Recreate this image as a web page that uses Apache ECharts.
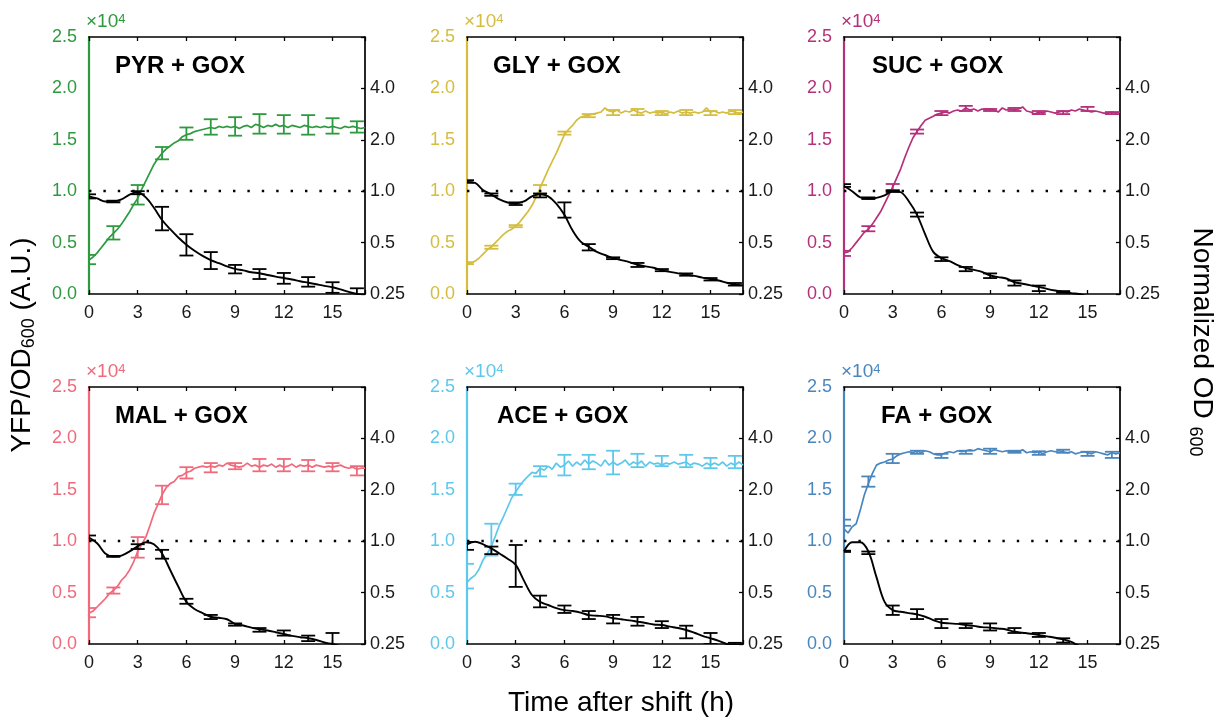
<!DOCTYPE html>
<html><head><meta charset="utf-8">
<script src="https://cdn.jsdelivr.net/npm/echarts@6/dist/echarts.min.js"></script>
<style>html,body{margin:0;padding:0;background:#fff}#c{width:1225px;height:721px}</style>
</head><body><div id="c"></div>
<script>
// ---------- data ----------
const HOURS_YFP = [0,0.25,0.5,0.75,1,1.25,1.5,1.75,2,2.25,2.5,2.75,3,3.25,3.5,3.75,4,4.25,4.5,4.75,5,5.25,5.5,5.75,6,6.25,6.5,6.75,7,7.25,7.5,7.75,8,8.25,8.5,8.75,9,9.25,9.5,9.75,10,10.25,10.5,10.75,11,11.25,11.5,11.75,12,12.25,12.5,12.75,13,13.25,13.5,13.75,14,14.25,14.5,14.75,15,15.25,15.5,15.75,16,16.25,16.5,16.75,17];
const HOURS_OD = [0,0.5,1,1.5,2,2.5,3,3.5,4,4.5,5,5.5,6,6.5,7,7.5,8,8.5,9,9.5,10,10.5,11,11.5,12,12.5,13,13.5,14,14.5,15,15.5,16,16.5,17];
const HOURS_BAR = [0,1.5,3,4.5,6,7.5,9,10.5,12,13.5,15,16.5];
const X_TICKS = [0,3,6,9,12,15];
const OD_TICK_LABELS = ['0.25','0.5','1.0','2.0','4.0'];

const NAMES = ['PYR + GOX','GLY + GOX','SUC + GOX','MAL + GOX','ACE + GOX','FA + GOX'];
const COLORS = ['#2e9a3f','#d4bd3f','#b5307a','#f06a7c','#5ec8ec','#4a86be'];

// YFP/OD600 (x10^4)
const yfp_PYR = [0.33,0.36,0.40,0.45,0.50,0.55,0.59,0.63,0.68,0.74,0.80,0.87,0.93,1.02,1.10,1.18,1.26,1.32,1.37,1.41,1.44,1.47,1.49,1.53,1.55,1.56,1.58,1.59,1.60,1.61,1.62,1.61,1.63,1.62,1.63,1.62,1.63,1.61,1.63,1.64,1.62,1.65,1.64,1.62,1.64,1.63,1.65,1.63,1.64,1.62,1.64,1.63,1.62,1.64,1.63,1.62,1.63,1.62,1.63,1.62,1.63,1.62,1.61,1.63,1.62,1.63,1.62,1.61,1.62];
const yfp_GLY = [0.30,0.30,0.32,0.35,0.39,0.43,0.46,0.50,0.54,0.58,0.61,0.63,0.66,0.70,0.75,0.80,0.86,0.94,1.03,1.12,1.21,1.29,1.37,1.46,1.55,1.60,1.64,1.69,1.72,1.73,1.74,1.75,1.76,1.77,1.81,1.78,1.77,1.79,1.76,1.78,1.77,1.79,1.77,1.76,1.78,1.76,1.77,1.76,1.77,1.75,1.77,1.76,1.78,1.76,1.77,1.76,1.77,1.76,1.77,1.81,1.77,1.78,1.76,1.77,1.76,1.78,1.77,1.76,1.77];
const yfp_SUC = [0.40,0.41,0.45,0.50,0.55,0.60,0.63,0.68,0.74,0.80,0.88,0.96,1.04,1.13,1.22,1.33,1.43,1.52,1.58,1.64,1.69,1.71,1.73,1.75,1.76,1.77,1.76,1.78,1.79,1.78,1.81,1.79,1.80,1.78,1.80,1.79,1.80,1.79,1.77,1.81,1.79,1.80,1.79,1.80,1.82,1.78,1.77,1.75,1.77,1.76,1.78,1.77,1.76,1.77,1.78,1.77,1.79,1.78,1.80,1.79,1.78,1.77,1.78,1.77,1.76,1.76,1.77,1.76,1.77];
const yfp_MAL = [0.30,0.32,0.36,0.40,0.44,0.49,0.52,0.56,0.62,0.66,0.72,0.80,0.90,0.97,1.04,1.15,1.27,1.36,1.45,1.52,1.56,1.58,1.63,1.64,1.67,1.68,1.71,1.72,1.73,1.72,1.73,1.72,1.74,1.73,1.76,1.74,1.73,1.72,1.73,1.76,1.73,1.74,1.72,1.74,1.73,1.75,1.72,1.74,1.72,1.73,1.75,1.72,1.74,1.73,1.74,1.72,1.74,1.73,1.72,1.73,1.72,1.73,1.74,1.72,1.71,1.72,1.70,1.71,1.71];
const yfp_ACE = [0.60,0.64,0.67,0.73,0.82,0.88,0.95,1.05,1.16,1.24,1.33,1.42,1.48,1.54,1.59,1.63,1.67,1.66,1.71,1.69,1.73,1.70,1.76,1.72,1.74,1.78,1.73,1.77,1.74,1.79,1.75,1.78,1.76,1.73,1.79,1.74,1.77,1.74,1.76,1.79,1.74,1.77,1.75,1.78,1.73,1.77,1.75,1.76,1.74,1.76,1.75,1.77,1.75,1.76,1.77,1.74,1.76,1.75,1.73,1.76,1.74,1.76,1.74,1.77,1.73,1.76,1.74,1.77,1.74];
const yfp_FA  = [1.12,1.08,1.14,1.17,1.30,1.45,1.56,1.66,1.74,1.76,1.77,1.79,1.80,1.83,1.85,1.86,1.87,1.86,1.88,1.86,1.88,1.87,1.85,1.84,1.84,1.86,1.87,1.86,1.88,1.87,1.88,1.89,1.88,1.90,1.89,1.88,1.87,1.89,1.88,1.87,1.88,1.87,1.88,1.87,1.89,1.86,1.87,1.86,1.87,1.85,1.87,1.88,1.87,1.88,1.87,1.86,1.87,1.85,1.86,1.87,1.86,1.85,1.87,1.86,1.85,1.84,1.86,1.85,1.86];

// Normalized OD600
const od_PYR = [0.933,0.907,0.871,0.871,0.895,0.955,0.986,0.92,0.80,0.678,0.599,0.536,0.486,0.448,0.418,0.395,0.379,0.363,0.351,0.344,0.335,0.331,0.323,0.316,0.310,0.304,0.297,0.291,0.285,0.279,0.274,0.266,0.257,0.250,0.247];
const od_GLY = [1.133,1.117,1.014,0.959,0.895,0.859,0.847,0.871,0.933,0.959,0.933,0.847,0.727,0.590,0.507,0.473,0.441,0.423,0.406,0.395,0.384,0.371,0.363,0.356,0.344,0.337,0.330,0.325,0.319,0.312,0.306,0.300,0.291,0.283,0.281];
const od_SUC = [1.072,1.0,0.920,0.907,0.914,0.946,1.0,0.986,0.871,0.727,0.559,0.441,0.406,0.390,0.369,0.354,0.346,0.337,0.321,0.314,0.308,0.293,0.287,0.281,0.275,0.268,0.262,0.257,0.253,0.250,0.243,0.240,0.237,0.233,0.230];
const od_MAL = [1.051,0.973,0.847,0.812,0.824,0.871,0.933,0.986,0.959,0.847,0.678,0.543,0.441,0.401,0.379,0.361,0.356,0.349,0.328,0.321,0.312,0.305,0.300,0.293,0.286,0.279,0.274,0.270,0.264,0.255,0.250,0.243,0.238,0.234,0.230];
const od_ACE = [0.959,0.992,0.959,0.907,0.847,0.790,0.727,0.590,0.484,0.441,0.423,0.406,0.395,0.390,0.382,0.369,0.366,0.363,0.354,0.349,0.344,0.338,0.332,0.325,0.323,0.316,0.310,0.302,0.291,0.279,0.270,0.261,0.250,0.247,0.247];
const od_FA  = [0.871,0.986,0.986,0.871,0.616,0.441,0.395,0.386,0.379,0.373,0.361,0.345,0.333,0.330,0.328,0.323,0.319,0.314,0.312,0.308,0.304,0.295,0.291,0.287,0.282,0.277,0.272,0.266,0.257,0.243,0.237,0.232,0.228,0.224,0.220];

// error bars (low / high) at HOURS_BAR
const yfpLo_PYR = [0.29,0.53,0.87,1.31,1.50,1.55,1.54,1.56,1.56,1.55,1.56,1.57];
const yfpHi_PYR = [0.38,0.66,1.06,1.43,1.62,1.70,1.72,1.75,1.74,1.74,1.71,1.68];
const odLo_PYR  = [0.907,0.86,0.96,0.59,0.42,0.35,0.33,0.306,0.287,0.276,0.254,0.243];
const odHi_PYR  = [0.959,0.88,1.0,0.81,0.56,0.44,0.37,0.35,0.332,0.314,0.293,0.27];

const yfpLo_GLY = [0.29,0.44,0.65,0.97,1.55,1.72,1.74,1.74,1.74,1.74,1.74,1.75];
const yfpHi_GLY = [0.31,0.47,0.67,1.06,1.58,1.75,1.79,1.80,1.78,1.79,1.78,1.79];
const odLo_GLY  = [1.12,0.94,0.83,0.92,0.70,0.45,0.40,0.36,0.34,0.32,0.30,0.28];
const odHi_GLY  = [1.16,0.97,0.86,0.97,0.86,0.49,0.41,0.38,0.35,0.33,0.31,0.29];

const yfpLo_SUC = [0.37,0.61,1.01,1.56,1.74,1.78,1.78,1.78,1.75,1.75,1.78,1.75];
const yfpHi_SUC = [0.42,0.66,1.07,1.60,1.78,1.83,1.80,1.81,1.78,1.78,1.82,1.77];
const odLo_SUC  = [1.06,0.90,0.99,0.71,0.39,0.34,0.31,0.28,0.26,0.254,0.238,0.228];
const odHi_SUC  = [1.10,0.92,1.01,0.75,0.41,0.36,0.33,0.30,0.28,0.26,0.245,0.235];

const yfpLo_MAL = [0.26,0.49,0.84,1.36,1.61,1.67,1.70,1.68,1.68,1.68,1.68,1.64];
const yfpHi_MAL = [0.35,0.55,1.04,1.54,1.72,1.76,1.76,1.80,1.80,1.79,1.76,1.73];
const odLo_MAL  = [1.01,0.81,0.90,0.79,0.43,0.35,0.32,0.295,0.28,0.26,0.243,0.228];
const odHi_MAL  = [1.08,0.82,0.96,0.89,0.46,0.37,0.33,0.31,0.30,0.28,0.29,0.235];

const yfpLo_ACE = [0.54,0.86,1.45,1.63,1.64,1.70,1.65,1.72,1.73,1.72,1.71,1.71];
const yfpHi_ACE = [0.78,1.17,1.56,1.73,1.84,1.84,1.88,1.85,1.83,1.84,1.81,1.83];
const odLo_ACE  = [0.89,0.84,0.54,0.41,0.38,0.35,0.33,0.32,0.31,0.27,0.25,0.246];
const odHi_ACE  = [0.99,0.93,0.95,0.48,0.42,0.39,0.37,0.36,0.34,0.32,0.29,0.254];

const yfpLo_FA  = [1.15,1.53,1.76,1.85,1.81,1.85,1.85,1.86,1.84,1.86,1.83,1.81];
const yfpHi_FA  = [1.21,1.63,1.85,1.88,1.85,1.88,1.90,1.88,1.875,1.89,1.87,1.87];
const odLo_FA   = [0.865,0.84,0.37,0.35,0.31,0.31,0.30,0.29,0.275,0.255,0.23,0.22];
const odHi_FA   = [0.88,0.87,0.42,0.40,0.35,0.33,0.33,0.31,0.29,0.27,0.24,0.23];

// ---------- layout (kept separate from data) ----------
const FONT = '"Liberation Sans", Arial, Helvetica, sans-serif';
const POS = [[89,37],[467,37],[844,37],[89,387],[467,387],[844,387]];
const GW = 276, GH = 257;
const TITLE_DX = [26,26,28,26,30,37];

const YFP = [yfp_PYR,yfp_GLY,yfp_SUC,yfp_MAL,yfp_ACE,yfp_FA];
const OD = [od_PYR,od_GLY,od_SUC,od_MAL,od_ACE,od_FA];
const YLO = [yfpLo_PYR,yfpLo_GLY,yfpLo_SUC,yfpLo_MAL,yfpLo_ACE,yfpLo_FA];
const YHI = [yfpHi_PYR,yfpHi_GLY,yfpHi_SUC,yfpHi_MAL,yfpHi_ACE,yfpHi_FA];
const OLO = [odLo_PYR,odLo_GLY,odLo_SUC,odLo_MAL,odLo_ACE,odLo_FA];
const OHI = [odHi_PYR,odHi_GLY,odHi_SUC,odHi_MAL,odHi_ACE,odHi_FA];

function errBar(color){
  return function(params, api){
    const x = api.value(0), lo = api.value(1), hi = api.value(2);
    const a = api.coord([x, lo]), b = api.coord([x, hi]);
    const w = 7;
    const st = {stroke: color, lineWidth: 1.8, fill: null};
    return {type:'group', children:[
      {type:'line', shape:{x1:a[0], y1:a[1], x2:b[0], y2:b[1]}, style: st},
      {type:'line', shape:{x1:a[0]-w, y1:a[1], x2:a[0]+w, y2:a[1]}, style: st},
      {type:'line', shape:{x1:b[0]-w, y1:b[1], x2:b[0]+w, y2:b[1]}, style: st}
    ]};
  };
}

const grid = [], xAxis = [], yAxis = [], series = [], graphic = [];
NAMES.forEach((name, i) => {
  const [L, T] = POS[i];
  const col = COLORS[i];
  grid.push({left: L, top: T, width: GW, height: GH, containLabel: false, outerBoundsMode: 'none'});
  const xBase = {
    type: 'value', gridIndex: i, min: 0, max: 17, interval: 3,
    splitLine: {show: false},
    axisLine: {show: true, onZero: false, lineStyle: {color: '#000', width: 1.7}},
    axisTick: {show: true, inside: true, length: 4, lineStyle: {color: '#000', width: 1.3}}
  };
  xAxis.push(Object.assign({}, xBase, {
    position: 'bottom',
    axisLabel: {show: true, color: '#1a1a1a', fontSize: 18, fontFamily: FONT, margin: 10,
      formatter: v => X_TICKS.indexOf(v) >= 0 ? String(v) : ''}
  }));
  xAxis.push(Object.assign({}, xBase, {position: 'top', axisLabel: {show: false}}));
  yAxis.push({
    type: 'value', gridIndex: i, min: 0, max: 2.5, interval: 0.5, position: 'left',
    splitLine: {show: false},
    axisLine: {show: true, onZero: false, lineStyle: {color: col, width: 2.2}},
    axisTick: {show: false},
    axisLabel: {color: col, fontSize: 18, fontFamily: FONT, margin: 12, formatter: v => v.toFixed(1)}
  });
  yAxis.push({
    type: 'log', logBase: 2, gridIndex: i, min: 0.25, max: 8, position: 'right',
    splitLine: {show: false},
    axisLine: {show: true, onZero: false, lineStyle: {color: '#000', width: 1.7}},
    axisTick: {show: true, inside: true, length: 4, lineStyle: {color: '#000', width: 1.3}},
    axisLabel: {color: '#1a1a1a', fontSize: 18, fontFamily: FONT, margin: 5,
      formatter: v => {
        const k = Math.round(Math.log2(v)) + 2;
        return (k >= 0 && k < OD_TICK_LABELS.length) ? OD_TICK_LABELS[k] : '';
      }}
  });
  const xi = 2 * i, yl = 2 * i, yr = 2 * i + 1;
  series.push({
    type: 'line', xAxisIndex: xi, yAxisIndex: yl, symbol: 'none', showSymbol: false, clip: true,
    lineStyle: {color: col, width: 1.7}, itemStyle: {color: col}, z: 3,
    data: HOURS_YFP.map((t, k) => [t, YFP[i][k]])
  });
  series.push({
    type: 'custom', xAxisIndex: xi, yAxisIndex: yl, clip: true, z: 3,
    renderItem: errBar(col), itemStyle: {color: col},
    data: HOURS_BAR.map((t, k) => [t, YLO[i][k], YHI[i][k]])
  });
  series.push({
    type: 'line', xAxisIndex: xi, yAxisIndex: yr, symbol: 'none', showSymbol: false, clip: true,
    smooth: 0.35, lineStyle: {color: '#000', width: 1.9}, itemStyle: {color: '#000'}, z: 4,
    data: HOURS_OD.map((t, k) => [t, OD[i][k]]),
    markLine: {
      silent: true, symbol: 'none', label: {show: false}, animation: false,
      lineStyle: {color: '#000', width: 2.4, type: [2.4, 12]},
      data: [{yAxis: 1}]
    }
  });
  series.push({
    type: 'custom', xAxisIndex: xi, yAxisIndex: yr, clip: true, z: 5,
    renderItem: errBar('#000'), itemStyle: {color: '#000'},
    data: HOURS_BAR.map((t, k) => [t, OLO[i][k], OHI[i][k]])
  });
  graphic.push({
    type: 'text', x: L - 3, y: T - 15, silent: true,
    style: {text: '×10{s|4}', font: '19px ' + FONT, fill: col, align: 'left', verticalAlign: 'middle',
      rich: {s: {fontSize: 13, fontFamily: FONT, fill: col, verticalAlign: 'top', lineHeight: 12}}}
  });
  graphic.push({
    type: 'text', x: L + TITLE_DX[i], y: T + 29, silent: true,
    style: {text: name, font: 'bold 24px ' + FONT, fill: '#000', align: 'left', verticalAlign: 'middle'}
  });
});

graphic.push({
  type: 'text', x: 22, y: 345, rotation: Math.PI / 2, silent: true,
  style: {text: 'YFP/OD{sub|600} (A.U.)', font: '28px ' + FONT, fill: '#000', align: 'center', verticalAlign: 'middle',
    lineHeight: 32, rich: {sub: {fontSize: 18, fontFamily: FONT, fill: '#000', verticalAlign: 'bottom', lineHeight: 14}}}
});
graphic.push({
  type: 'text', x: 1202, y: 342, rotation: -Math.PI / 2, silent: true,
  style: {text: 'Normalized OD {sub|600}', font: '28px ' + FONT, fill: '#000', align: 'center', verticalAlign: 'middle',
    lineHeight: 32, rich: {sub: {fontSize: 18, fontFamily: FONT, fill: '#000', verticalAlign: 'bottom', lineHeight: 14}}}
});
graphic.push({
  type: 'text', x: 621, y: 703, silent: true,
  style: {text: 'Time after shift (h)', font: '28px ' + FONT, fill: '#000', align: 'center', verticalAlign: 'middle'}
});

const chart = echarts.init(document.getElementById('c'), null, {renderer: 'canvas'});
chart.setOption({
  animation: false,
  backgroundColor: '#fff',
  textStyle: {fontFamily: FONT},
  grid, xAxis, yAxis, series, graphic
});
</script>
</body></html>
